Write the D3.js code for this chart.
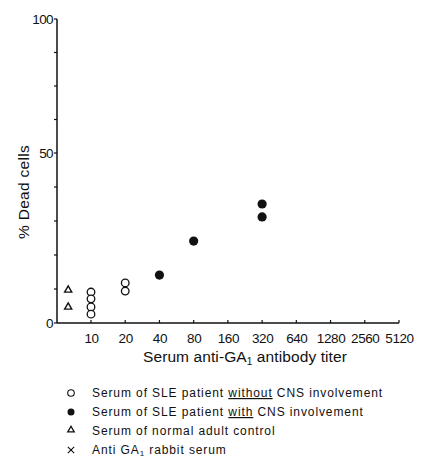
<!DOCTYPE html>
<html>
<head>
<meta charset="utf-8">
<script src="https://cdn.jsdelivr.net/npm/d3@7"></script>
<style>
  body { margin: 0; background: #fff; }
  svg { display: block; }
  text { font-family: "Liberation Sans", Arial, sans-serif; fill: #111; }
</style>
</head>
<body>
<svg id="chart" width="421" height="461"></svg>
<script>
// ---- data ----
const xTickLabels = [10, 20, 40, 80, 160, 320, 640, 1280, 2560, 5120];
const yTickLabels = [0, 50, 100];
const yMinorTicks = [10, 20, 30, 40, 62.5, 75, 87.5];
// SLE without CNS involvement (open circles): [titer, % dead]
const sleWithout = [[10, 9.1], [10, 7.1], [10, 4.7], [10, 2.6], [20, 11.8], [20, 9.4]];
// SLE with CNS involvement (filled circles)
const sleWith = [[40, 14.1], [80, 24.1], [320, 35.0], [320, 31.2]];
// Normal adult control (triangles), plotted left of the titer axis
const controlTiter = 6.3;
const controls = [[controlTiter, 9.7], [controlTiter, 4.7]];
const legendItems = [
  { sym: "open", parts: [["Serum of SLE patient ", false], ["without", true], [" CNS involvement", false]] },
  { sym: "filled", parts: [["Serum of SLE patient ", false], ["with", true], [" CNS involvement", false]] },
  { sym: "tri", parts: [["Serum of normal adult control", false]] },
  { sym: "cross", parts: [["Anti GA", false], ["1", "sub"], [" rabbit serum", false]] }
];

const svg = d3.select("#chart");
const x = d3.scaleLog().base(2).domain([10, 5120]).range([91, 399]);
const y = d3.scaleLinear().domain([0, 50, 100]).range([323, 153, 19]);
const axisX0 = 57;

// axes lines
const g = svg.append("g").attr("stroke", "#111").attr("stroke-width", 1.5).attr("fill", "none");
g.append("line").attr("x1", axisX0).attr("x2", axisX0).attr("y1", y(100)).attr("y2", y(0));
g.append("line").attr("x1", axisX0).attr("x2", x(5120)).attr("y1", y(0)).attr("y2", y(0));

// y ticks
g.selectAll(".yt").data(yTickLabels.concat(yMinorTicks)).enter().append("line")
  .attr("x1", axisX0 - 3).attr("x2", axisX0).attr("y1", d => y(d)).attr("y2", d => y(d))
  .attr("stroke-width", 1.2);
svg.selectAll(".yl").data(yTickLabels).enter().append("text")
  .attr("x", axisX0 - 4).attr("y", d => y(d) + 5)
  .attr("text-anchor", "end").attr("font-size", 13.5).attr("letter-spacing", -0.6)
  .text(d => d);

// x ticks
g.selectAll(".xt").data(xTickLabels).enter().append("line")
  .attr("x1", d => x(d)).attr("x2", d => x(d)).attr("y1", y(0) - 3).attr("y2", y(0))
  .attr("stroke-width", 1.2);
svg.selectAll(".xl").data(xTickLabels).enter().append("text")
  .attr("x", d => x(d) + 0.5).attr("y", 343)
  .attr("text-anchor", "middle").attr("font-size", 13.5).attr("letter-spacing", -0.4)
  .text(d => d);

// axis titles
svg.append("text").attr("transform", "translate(29,192) rotate(-90)")
  .attr("text-anchor", "middle").attr("font-size", 15.5).attr("letter-spacing", 0.3)
  .text("% Dead cells");
const xt = svg.append("text").attr("x", 245).attr("y", 362).attr("text-anchor", "middle")
  .attr("font-size", 15.5).attr("letter-spacing", 0.1);
xt.append("tspan").text("Serum anti-GA");
xt.append("tspan").attr("font-size", 10).attr("dy", 3).text("1");
xt.append("tspan").attr("dy", -3).text(" antibody titer");

// marks
svg.selectAll(".open").data(sleWithout).enter().append("circle")
  .attr("cx", d => x(d[0])).attr("cy", d => y(d[1])).attr("r", 3.8)
  .attr("fill", "#fff").attr("stroke", "#111").attr("stroke-width", 1.3);
svg.selectAll(".filled").data(sleWith).enter().append("circle")
  .attr("cx", d => x(d[0])).attr("cy", d => y(d[1])).attr("r", 4.6)
  .attr("fill", "#111");
const tri = d3.symbol().type(d3.symbolTriangle).size(22);
svg.selectAll(".tri").data(controls).enter().append("path")
  .attr("d", tri).attr("transform", d => `translate(${x(d[0])},${y(d[1])})`)
  .attr("fill", "none").attr("stroke", "#111").attr("stroke-width", 1.4);

// legend
const lg = svg.append("g");
const rowY = [397, 416, 435, 454];
legendItems.forEach((it, i) => {
  const cy = rowY[i];
  if (it.sym === "open") lg.append("circle").attr("cx", 71).attr("cy", cy - 4).attr("r", 3.3)
    .attr("fill", "none").attr("stroke", "#111").attr("stroke-width", 1.1);
  if (it.sym === "filled") lg.append("circle").attr("cx", 71).attr("cy", cy - 4).attr("r", 3.5).attr("fill", "#111");
  if (it.sym === "tri") lg.append("path").attr("d", d3.symbol().type(d3.symbolTriangle).size(18))
    .attr("transform", `translate(71,${cy - 5})`).attr("fill", "none").attr("stroke", "#111").attr("stroke-width", 1.3);
  if (it.sym === "cross") lg.append("path").attr("d", d3.symbol().type(d3.symbolX).size(28))
    .attr("transform", `translate(71,${cy - 4})`).attr("fill", "none").attr("stroke", "#111").attr("stroke-width", 1.1);
  const t = lg.append("text").attr("x", 92).attr("y", cy).attr("font-size", 12).attr("letter-spacing", 0.9);
  it.parts.forEach(p => {
    if (p[1] === "sub") t.append("tspan").attr("font-size", 8).attr("dy", 2).text(p[0]);
    else {
      const s = t.append("tspan").text(p[0]);
      if (it.parts.some(q => q[1] === "sub") && p[0].startsWith(" ")) s.attr("dy", -2);
      if (p[1] === true) s.attr("text-decoration", "underline");
    }
  });
});
</script>
</body>
</html>
